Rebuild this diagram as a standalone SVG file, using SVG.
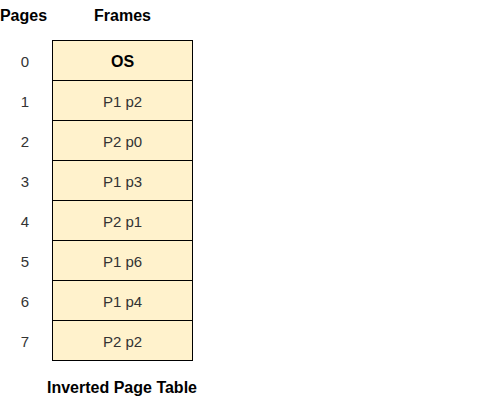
<svg xmlns="http://www.w3.org/2000/svg" width="480" height="401" viewBox="0 0 480 401">
<style>
.cell{fill:#fff2cc;stroke:#000;stroke-width:1}
.t{font-family:"Liberation Sans",Arial,sans-serif;font-size:15px;text-anchor:middle;dominant-baseline:central;fill:#333}
.b{font-family:"Liberation Sans",Arial,sans-serif;font-size:16px;font-weight:bold;text-anchor:middle;dominant-baseline:central;fill:#000}
</style>
<rect width="480" height="401" fill="#fff"/>
<g id="headers">
<text class="b" x="23.5" y="15.5">Pages</text>
<text class="b" x="122.5" y="15.5">Frames</text>
<text class="b" x="122" y="387">Inverted Page Table</text>
</g>
<g id="connectors"></g>
<g id="row0"><rect class="cell" x="52.5" y="40.5" width="140" height="40"/><text class="b" x="122.5" y="61">OS</text><text class="t" x="25" y="61">0</text></g>
<g id="row1"><rect class="cell" x="52.5" y="80.5" width="140" height="40"/><text class="t" x="122.5" y="101">P1 p2</text><text class="t" x="25" y="101">1</text></g>
<g id="row2"><rect class="cell" x="52.5" y="120.5" width="140" height="40"/><text class="t" x="122.5" y="141">P2 p0</text><text class="t" x="25" y="141">2</text></g>
<g id="row3"><rect class="cell" x="52.5" y="160.5" width="140" height="40"/><text class="t" x="122.5" y="181">P1 p3</text><text class="t" x="25" y="181">3</text></g>
<g id="row4"><rect class="cell" x="52.5" y="200.5" width="140" height="40"/><text class="t" x="122.5" y="221">P2 p1</text><text class="t" x="25" y="221">4</text></g>
<g id="row5"><rect class="cell" x="52.5" y="240.5" width="140" height="40"/><text class="t" x="122.5" y="261">P1 p6</text><text class="t" x="25" y="261">5</text></g>
<g id="row6"><rect class="cell" x="52.5" y="280.5" width="140" height="40"/><text class="t" x="122.5" y="301">P1 p4</text><text class="t" x="25" y="301">6</text></g>
<g id="row7"><rect class="cell" x="52.5" y="320.5" width="140" height="40"/><text class="t" x="122.5" y="341">P2 p2</text><text class="t" x="25" y="341">7</text></g>
</svg>
